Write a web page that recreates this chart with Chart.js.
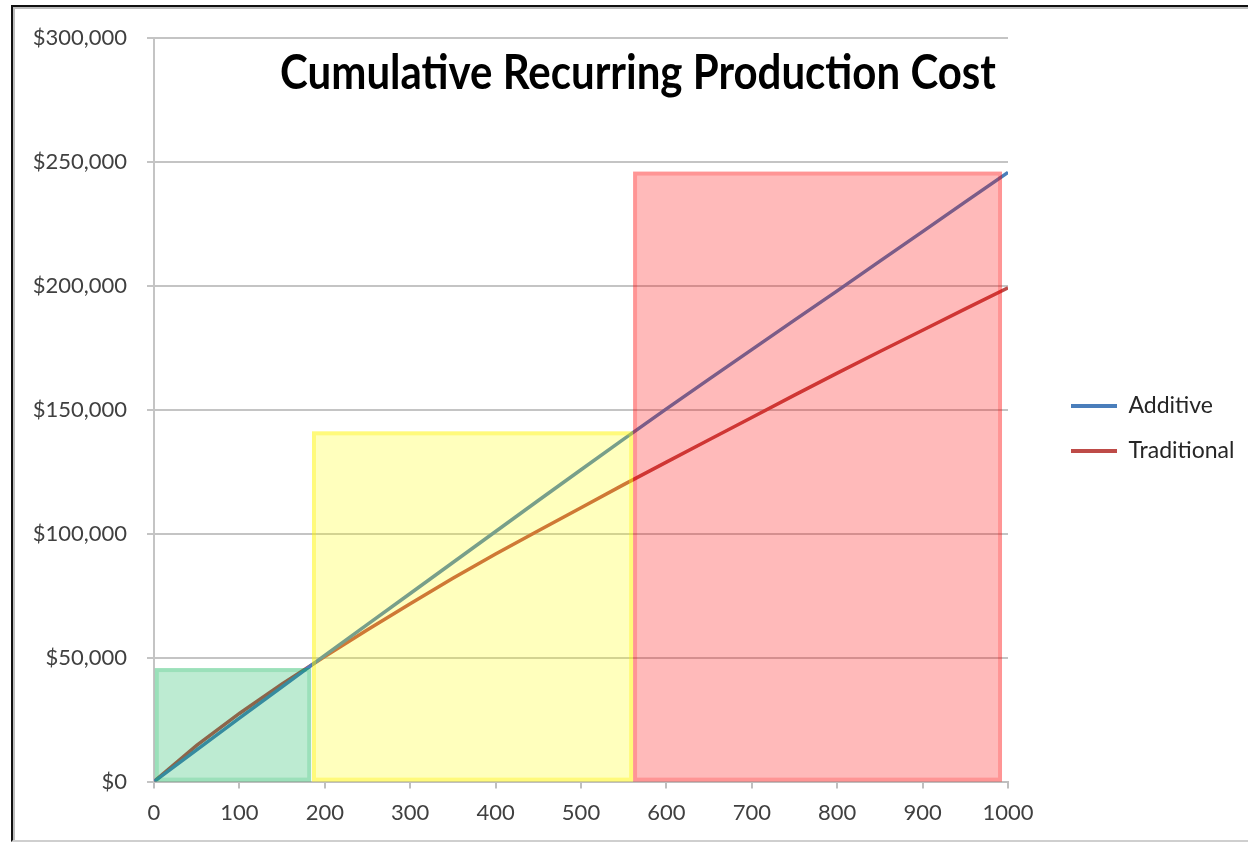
<!DOCTYPE html>
<html>
<head>
<meta charset="utf-8">
<script src="https://cdn.jsdelivr.net/npm/chart.js@4.4.1/dist/chart.umd.min.js"></script>
<style>
  html, body { margin: 0; padding: 0; background: #fff; }
  #wrap { position: relative; width: 1248px; height: 842px; overflow: hidden; }
  #frame { position: absolute; left: 11px; top: 5px; right: -4px; bottom: 0px;
           border-top: 2px solid #111; border-left: 2px solid #111; border-bottom: 2px solid #cfcfcf;
           box-shadow: inset 2px 2px 0 #bdbdbd; pointer-events: none; }
  #title { position: absolute; left: 150px; width: 976px; top: 48px; text-align: center;
           font-family: Lato, "Open Sans", sans-serif; font-weight: 700; font-size: 42px; color: #000;
           transform: scaleY(1.12); transform-origin: 50% 0; line-height: 1; }
  canvas { position: absolute; left: 0; top: 0; }
</style>
</head>
<body>
<div id="wrap">
  <canvas id="c" width="1248" height="842"></canvas>
  <div id="title">Cumulative Recurring Production Cost</div>
  <div id="frame"></div>
</div>
<script>
// Units produced (x) and cumulative cost for each process
const units = [0, 50, 100, 150, 200, 250, 300, 350, 400, 450, 500, 550, 600, 650, 700, 750, 800, 850, 900, 950, 1000];
const additiveCost = [0, 12800, 25600, 38200, 50900, 63400, 75900, 88400, 100900, 113400, 125800, 138200, 150400, 162400, 174300, 186200, 198000, 210000, 221900, 233900, 245800];
const traditionalCost = [0, 14600, 27500, 39400, 50500, 61300, 71800, 82000, 91800, 101200, 110500, 119800, 128900, 137900, 146900, 155900, 164800, 173500, 182100, 190700, 199200];

// Production-volume bands (start unit, end unit, cost ceiling)
const bandStart = [1, 185, 561];
const bandEnd = [184, 561, 993];
const bandTop = [45800, 141300, 246100];

const yTicks = [0, 50000, 100000, 150000, 200000, 250000, 300000];
const xTicks = [0, 100, 200, 300, 400, 500, 600, 700, 800, 900, 1000];

const bandFill = ['rgba(0,176,80,0.26)', 'rgba(255,255,0,0.26)', 'rgba(255,0,0,0.27)'];
const bandEdge = ['rgba(0,176,80,0.18)', 'rgba(255,240,0,0.35)', 'rgba(255,0,0,0.2)'];

const toPts = (ys) => units.map((x, i) => ({ x: x, y: ys[i] }));

// Translucent production bands laid over the cost curves
const bandsPlugin = {
  id: 'bands',
  afterDatasetsDraw(chart) {
    const { ctx, scales: { x, y } } = chart;
    ctx.save();
    bandStart.forEach((s, i) => {
      const l = x.getPixelForValue(s);
      const r = x.getPixelForValue(bandEnd[i]);
      const t = y.getPixelForValue(bandTop[i]);
      const b = y.getPixelForValue(0);
      ctx.fillStyle = bandFill[i];
      ctx.fillRect(l, t, r - l, b - t);
      ctx.strokeStyle = bandEdge[i];
      ctx.lineWidth = 4;
      ctx.strokeRect(l + 2, t + 2, r - l - 4, b - t - 4);
    });
    ctx.restore();
  }
};

// Fixed-width legend column on the right, with its entries set in from the plot edge
const legendPlacement = {
  id: 'legendPlacement',
  beforeLayout(chart) {
    const lg = chart.legend;
    if (lg && !lg._fixedFit) {
      const baseFit = lg.fit;
      lg.fit = function () { baseFit.call(this); this.width = 230; };
      lg._fixedFit = true;
    }
  },
  afterLayout(chart) {
    const lg = chart.legend;
    const dx = chart.chartArea.right + 41 - lg.left;
    lg.left += dx; lg.right += dx;
    lg.top -= 9; lg.bottom -= 9;
  }
};

const fontFam = 'Lato, "Open Sans", sans-serif';

new Chart(document.getElementById('c'), {
  type: 'line',
  data: {
    datasets: [
      { label: 'Additive', data: toPts(additiveCost), borderColor: '#4A7EBB', backgroundColor: '#4A7EBB',
        borderWidth: 3.5, pointRadius: 0, tension: 0 },
      { label: 'Traditional', data: toPts(traditionalCost), borderColor: '#BE4B48', backgroundColor: '#BE4B48',
        borderWidth: 3.5, pointRadius: 0, tension: 0 }
    ]
  },
  options: {
    responsive: false,
    animation: false,
    layout: { padding: { left: 0, top: 38, right: 10, bottom: 5 } },
    plugins: {
      title: { display: false },
      tooltip: { enabled: false },
      legend: {
        position: 'right',
        labels: {
          boxWidth: 46, boxHeight: 4, padding: 22,
          font: { family: fontFam, size: 23 }, color: '#262626',
          generateLabels(chart) {
            return Chart.defaults.plugins.legend.labels.generateLabels(chart).map(l => ({ ...l, lineWidth: 0 }));
          }
        }
      }
    },
    scales: {
      x: {
        type: 'linear', min: 0, max: 1000,
        afterBuildTicks(scale) { scale.ticks = xTicks.map(v => ({ value: v })); },
        grid: { drawOnChartArea: false, drawTicks: true, tickLength: 7, color: '#bfbfbf', lineWidth: 2 },
        border: { color: '#bfbfbf', width: 2 },
        ticks: { padding: 11, font: { family: fontFam, size: 22 }, color: '#404040', maxRotation: 0,
                 callback: v => String(v) }
      },
      y: {
        min: 0, max: 300000,
        afterBuildTicks(scale) { scale.ticks = yTicks.map(v => ({ value: v })); },
        afterFit(scale) { scale.width = 154; },
        grid: { color: '#c4c4c4', lineWidth: 2, tickLength: 7 },
        border: { color: '#c4c4c4', width: 2 },
        ticks: { padding: 20, font: { family: fontFam, size: 22 }, color: '#404040',
                 callback: v => '$' + v.toLocaleString('en-US') }
      }
    }
  },
  plugins: [bandsPlugin, legendPlacement]
});
</script>
</body>
</html>
